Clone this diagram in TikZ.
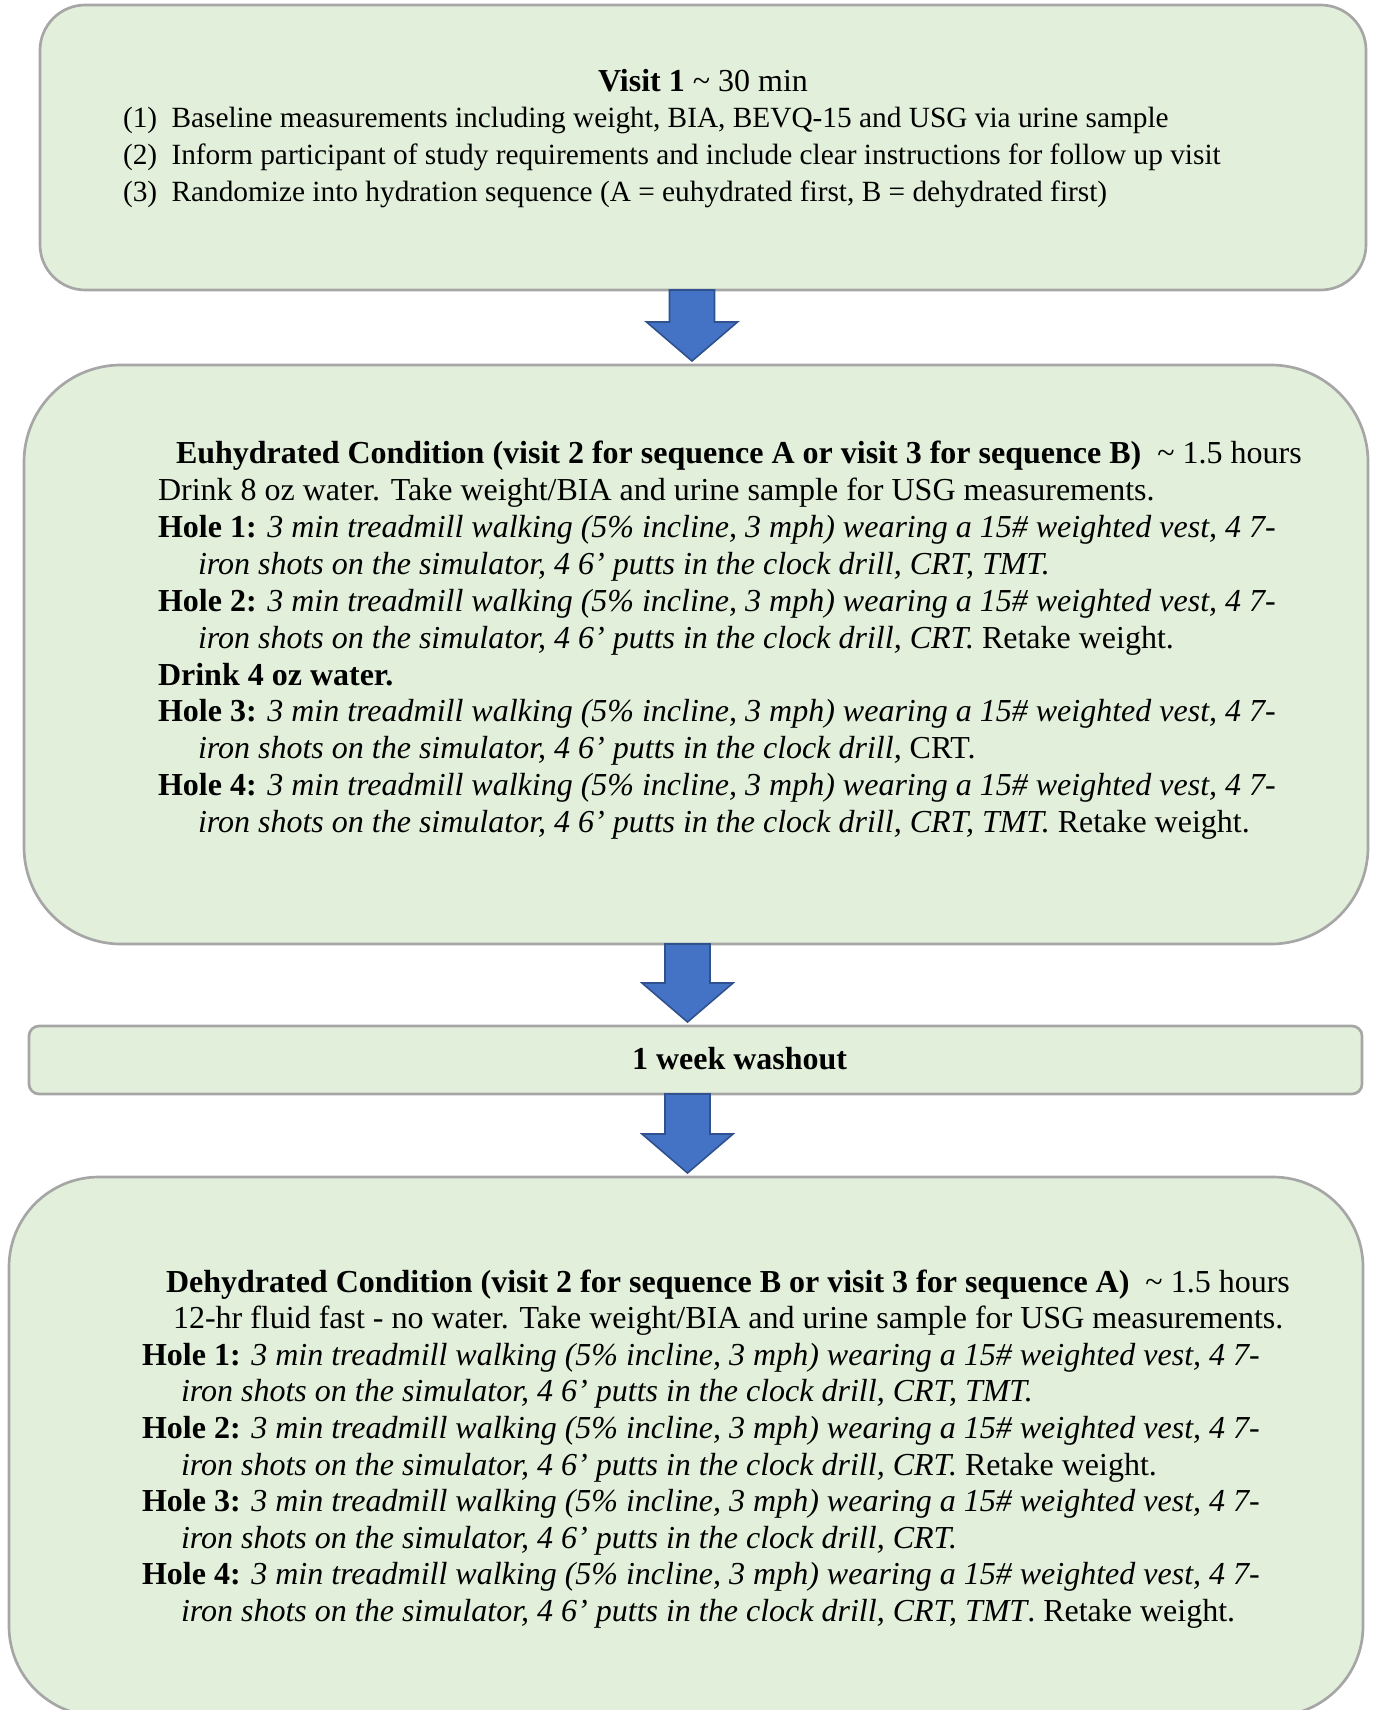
\documentclass[tikz,border=0pt]{standalone}
\usepackage{fontspec}
\setmainfont{Liberation Serif}
\usetikzlibrary{calc}
\definecolor{boxfill}{HTML}{E2EFDA}
\definecolor{boxline}{HTML}{A6A6A6}
\definecolor{arrfill}{HTML}{4472C4}
\definecolor{arrline}{HTML}{2F528F}
\newcommand\blockarrow[3]{%
  \path (#1 |- #2.south) coordinate (#1s) (#1 |- #3.north) coordinate (#1e);
  \draw[blk] ($(#1s)+(-22.5,0)$) -- ($(#1e)+(-22.5,-43)$) -- ($(#1e)+(-45.5,-43)$) -- ($(#1e)+(0,-4)$)
     -- ($(#1e)+(45.5,-43)$) -- ($(#1e)+(22.5,-43)$) -- ($(#1s)+(22.5,0)$) -- cycle;}
\begin{document}
\begin{tikzpicture}[x=0.375pt,y=-0.375pt,
  box/.style={draw=boxline, fill=boxfill, line width=1pt, inner sep=0pt, outer sep=0pt},
  txt/.style={anchor=base west, inner sep=0pt, outer sep=0pt, font=\fontsize{12}{13.8}\selectfont},
  smalltxt/.style={txt, font=\fontsize{11}{13.8}\selectfont},
  blk/.style={fill=arrfill, draw=arrline, line width=0.6pt, line join=miter}]
\useasboundingbox (0,0) rectangle (1374,1710);
% boxes
\node[box, rounded corners=17pt, minimum width=497.25pt, minimum height=106.875pt] (b1) at (703,147.5) {};
\node[box, rounded corners=36.4pt, minimum width=504pt, minimum height=217.125pt] (b2) at (696,654.5) {};
\node[box, rounded corners=3.75pt, minimum width=499.875pt, minimum height=25.5pt] (bw) at (695.5,1060) {};
\node[box, rounded corners=33.75pt, minimum width=507.75pt, minimum height=202.125pt] (b3) at (686,1446.5) {};
% arrows
\coordinate (a1) at (692,0);
\coordinate (a2) at (687.5,0);
\coordinate (a3) at (687.5,0);
\blockarrow{a1}{b1}{b2}
\blockarrow{a2}{b2}{bw}
\blockarrow{a3}{bw}{b3}
% box 1 text
\node[txt, anchor=base] (v0) at (703,91.5) {\textbf{Visit 1} \textasciitilde{} 30 min};
\node[smalltxt] (v1) at (123,128) {\makebox[18.2pt][l]{(1)}Baseline measurements including weight, BIA, BEVQ-15 and USG via urine sample};
\node[smalltxt] (v2) at (123,165) {\makebox[18.2pt][l]{(2)}Inform participant of study requirements and include clear instructions for follow up visit};
\node[smalltxt] (v3) at (123,202) {\makebox[18.2pt][l]{(3)}Randomize into hydration sequence (A = euhydrated first, B = dehydrated first)};
% box 2 text
\node[txt] (e0) at (176,464) {\textbf{Euhydrated Condition (visit 2 for sequence A or visit 3 for sequence B)}\ \ \textasciitilde{} 1.5 hours};
\node[txt] (e1) at (158,500.85) {Drink 8 oz water. Take weight/BIA and urine sample for USG measurements.};
\node[txt] (e2) at (158,537.7) {\textbf{Hole 1:} \textit{3 min treadmill walking (5\% incline, 3 mph) wearing a 15\# weighted vest, 4 7-}};
\node[txt] (e3) at (198,574.55) {\textit{iron shots on the simulator, 4 6’ putts in the clock drill, CRT, TMT.}};
\node[txt] (e4) at (158,611.4) {\textbf{Hole 2:} \textit{3 min treadmill walking (5\% incline, 3 mph) wearing a 15\# weighted vest, 4 7-}};
\node[txt] (e5) at (198,648.25) {\textit{iron shots on the simulator, 4 6’ putts in the clock drill, CRT.} Retake weight.};
\node[txt] (e6) at (158,685.1) {\textbf{Drink 4 oz water.}};
\node[txt] (e7) at (158,721.95) {\textbf{Hole 3:} \textit{3 min treadmill walking (5\% incline, 3 mph) wearing a 15\# weighted vest, 4 7-}};
\node[txt] (e8) at (198,758.8) {\textit{iron shots on the simulator, 4 6’ putts in the clock drill,} CRT.};
\node[txt] (e9) at (158,795.65) {\textbf{Hole 4:} \textit{3 min treadmill walking (5\% incline, 3 mph) wearing a 15\# weighted vest, 4 7-}};
\node[txt] (e10) at (198,832.5) {\textit{iron shots on the simulator, 4 6’ putts in the clock drill, CRT, TMT.} Retake weight.};
% washout
\node[txt] (w0) at (632,1069) {\textbf{1 week washout}};
% box 3 text
\node[txt] (d0) at (166,1292) {\textbf{Dehydrated Condition (visit 2 for sequence B or visit 3 for sequence A)}\ \ \textasciitilde{} 1.5 hours};
\node[txt] (d1) at (173,1328.6) {12-hr fluid fast - no water. Take weight/BIA and urine sample for USG measurements.};
\node[txt] (d2) at (142,1365.2) {\textbf{Hole 1:} \textit{3 min treadmill walking (5\% incline, 3 mph) wearing a 15\# weighted vest, 4 7-}};
\node[txt] (d3) at (181,1401.8) {\textit{iron shots on the simulator, 4 6’ putts in the clock drill, CRT, TMT.}};
\node[txt] (d4) at (142,1438.4) {\textbf{Hole 2:} \textit{3 min treadmill walking (5\% incline, 3 mph) wearing a 15\# weighted vest, 4 7-}};
\node[txt] (d5) at (181,1475) {\textit{iron shots on the simulator, 4 6’ putts in the clock drill, CRT.} Retake weight.};
\node[txt] (d6) at (142,1511.6) {\textbf{Hole 3:} \textit{3 min treadmill walking (5\% incline, 3 mph) wearing a 15\# weighted vest, 4 7-}};
\node[txt] (d7) at (181,1548.2) {\textit{iron shots on the simulator, 4 6’ putts in the clock drill, CRT.}};
\node[txt] (d8) at (142,1584.8) {\textbf{Hole 4:} \textit{3 min treadmill walking (5\% incline, 3 mph) wearing a 15\# weighted vest, 4 7-}};
\node[txt] (d9) at (181,1621.4) {\textit{iron shots on the simulator, 4 6’ putts in the clock drill, CRT, TMT}. Retake weight.};
\end{tikzpicture}
\end{document}
